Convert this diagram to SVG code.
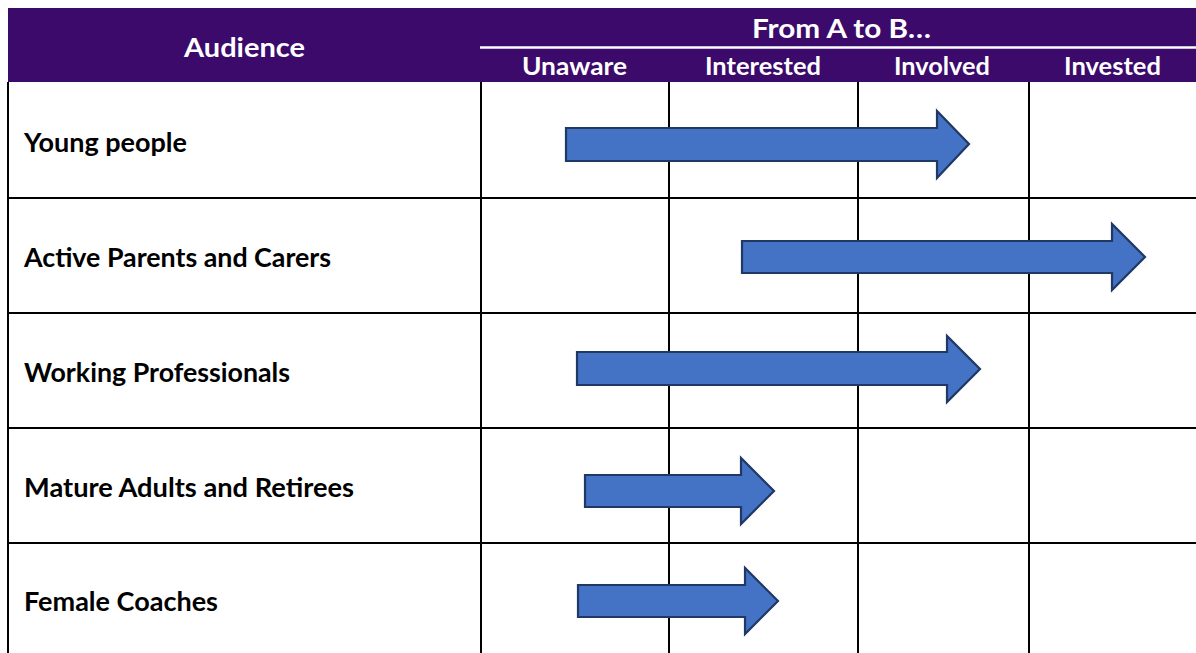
<svg xmlns="http://www.w3.org/2000/svg" width="1196" height="653" viewBox="0 0 1196 653">
  <style>
    .hdr { fill: #3B0A6B; }
    .hd { font-family: Lato, "Liberation Sans", Arial, sans-serif; font-weight: bold; fill: #FFFFFF; }
    .lbl { font-family: Lato, "Liberation Sans", Arial, sans-serif; font-weight: bold; fill: #000000; font-size: 26px; }
    .grid { stroke: #000000; stroke-width: 2; fill: none; }
    .arrow { fill: #4472C4; stroke: #1F3864; stroke-width: 2.2; stroke-linejoin: miter; }
  </style>

  <!-- header band -->
  <g id="header">
    <rect class="hdr" x="8" y="8" width="1188" height="74"/>
    <line x1="480" y1="47.5" x2="1196" y2="47.5" stroke="#FFFFFF" stroke-width="2.5"/>
    <text class="hd" x="244.5" y="56.5" font-size="27" text-anchor="middle" textLength="121" lengthAdjust="spacingAndGlyphs">Audience</text>
    <text class="hd" x="841.5" y="37.5" font-size="27" text-anchor="middle" textLength="179" lengthAdjust="spacingAndGlyphs">From A to B…</text>
    <text class="hd" x="574.5" y="75" font-size="25" text-anchor="middle" textLength="105" lengthAdjust="spacingAndGlyphs">Unaware</text>
    <text class="hd" x="763" y="75" font-size="25" text-anchor="middle" textLength="116" lengthAdjust="spacingAndGlyphs">Interested</text>
    <text class="hd" x="942" y="75" font-size="25" text-anchor="middle" textLength="96" lengthAdjust="spacingAndGlyphs">Involved</text>
    <text class="hd" x="1112.5" y="75" font-size="25" text-anchor="middle" textLength="97" lengthAdjust="spacingAndGlyphs">Invested</text>
  </g>

  <!-- table grid -->
  <g id="grid" class="grid">
    <line x1="8" y1="82" x2="8" y2="653"/>
    <line x1="481" y1="82" x2="481" y2="653"/>
    <line x1="669" y1="82" x2="669" y2="653"/>
    <line x1="858" y1="82" x2="858" y2="653"/>
    <line x1="1029" y1="82" x2="1029" y2="653"/>
    <line x1="8" y1="198" x2="1196" y2="198"/>
    <line x1="8" y1="313" x2="1196" y2="313"/>
    <line x1="8" y1="428" x2="1196" y2="428"/>
    <line x1="8" y1="543" x2="1196" y2="543"/>
  </g>

  <!-- audience rows -->
  <g id="row-young-people">
    <text class="lbl" x="24" y="151.5" textLength="163" lengthAdjust="spacingAndGlyphs">Young people</text>
  </g>
  <g id="row-active-parents">
    <text class="lbl" x="24" y="266.5" textLength="307" lengthAdjust="spacingAndGlyphs">Active Parents and Carers</text>
  </g>
  <g id="row-working-professionals">
    <text class="lbl" x="24" y="381.5" textLength="266" lengthAdjust="spacingAndGlyphs">Working Professionals</text>
  </g>
  <g id="row-mature-adults">
    <text class="lbl" x="24" y="496.5" textLength="330" lengthAdjust="spacingAndGlyphs">Mature Adults and Retirees</text>
  </g>
  <g id="row-female-coaches">
    <text class="lbl" x="24" y="611" textLength="194" lengthAdjust="spacingAndGlyphs">Female Coaches</text>
  </g>

  <!-- progress arrows -->
  <g id="connectors">
    <polygon class="arrow" points="566,128 937,128 937,111 969,144 937,178 937,161 566,161"/>
    <polygon class="arrow" points="742,241 1112,241 1112,224 1145,257 1112,290 1112,273 742,273"/>
    <polygon class="arrow" points="577,352 947,352 947,336 980,369 947,402 947,385 577,385"/>
    <polygon class="arrow" points="585,475 741,475 741,458 774,491 741,524 741,507 585,507"/>
    <polygon class="arrow" points="578,585 745,585 745,568 778,601 745,634 745,617 578,617"/>
  </g>
</svg>
